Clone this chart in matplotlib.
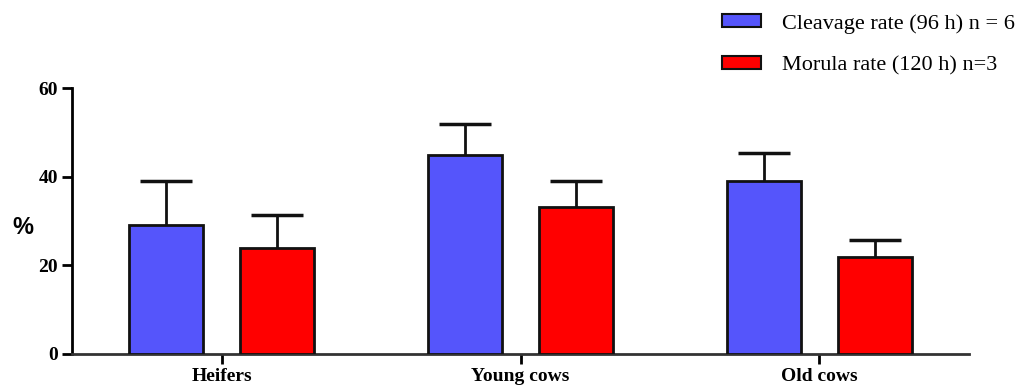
import numpy as np
import matplotlib.pyplot as plt

groups = ["Heifers", "Young cows", "Old cows"]
cleavage = [29.0, 45.0, 39.0]
cleavage_err = [10.1, 6.8, 6.3]
morula = [23.9, 33.2, 21.9]
morula_err = [7.5, 5.8, 3.8]

fig = plt.figure(figsize=(10.22, 3.87), dpi=100)
ax = fig.add_axes([0.0705, 0.0853, 0.8776, 0.6873])

x = np.arange(len(groups))
w = 0.2475
off = 0.187

ax.bar(x - off, cleavage, w, color="#5555fb", edgecolor="#111111", linewidth=2,
       label="Cleavage rate (96 h) n = 6", zorder=3)
ax.bar(x + off, morula, w, color="#ff0000", edgecolor="#111111", linewidth=2,
       label="Morula rate (120 h) n=3", zorder=3)

# upper error bars only
for xs, ys, es in [(x - off, cleavage, cleavage_err), (x + off, morula, morula_err)]:
    eb = ax.errorbar(xs, ys, yerr=[np.zeros(3), es], fmt="none", ecolor="#111111",
                     elinewidth=2, capsize=19, capthick=2.5, zorder=2)
    eb[1][0].set_visible(False)

ax.set_xlim(-0.5, 2.5)
ax.set_ylim(0, 60)
ax.set_yticks([0, 20, 40, 60])
ax.set_xticks(x)
ax.set_xticklabels(groups, family="Liberation Serif", fontweight="bold", fontsize=14)
for lab in ax.get_yticklabels():
    lab.set_family("Liberation Serif")
    lab.set_fontweight("bold")
    lab.set_fontsize(14)

for s in ["top", "right"]:
    ax.spines[s].set_visible(False)
ax.spines["left"].set_linewidth(2)
ax.spines["bottom"].set_linewidth(2)
ax.spines["bottom"].set_color("#333333")
ax.tick_params(axis="both", width=2, length=7, direction="out", pad=3)

fig.text(0.012, 0.411, "%", fontsize=17, fontweight="bold", family="Liberation Sans", va="center")

leg = ax.legend(loc="upper right", bbox_to_anchor=(1.013, 1.016), bbox_transform=fig.transFigure,
                frameon=False, prop={"family": "Liberation Serif", "size": 16},
                handlelength=1.75, handleheight=0.55, handletextpad=0.95, labelspacing=1.0)
for p in leg.get_patches():
    p.set_linewidth(1.5)

fig.savefig("out.png", dpi=100)
